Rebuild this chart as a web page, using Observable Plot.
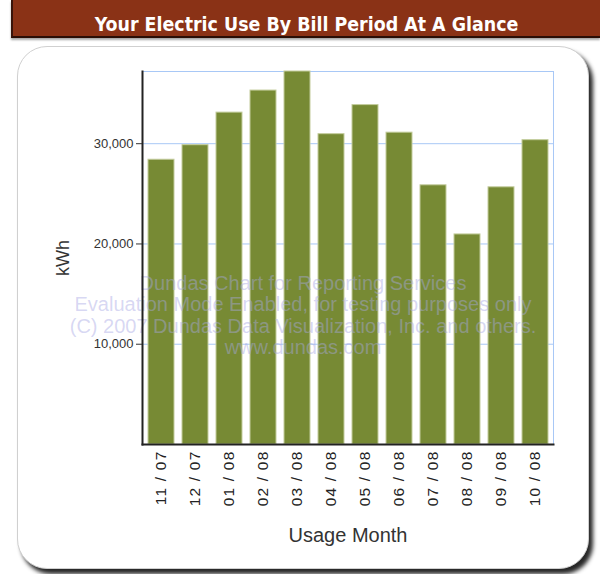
<!DOCTYPE html>
<html>
<head>
<meta charset="utf-8">
<script src="https://cdn.jsdelivr.net/npm/d3@7"></script>
<script src="https://cdn.jsdelivr.net/npm/@observablehq/plot@0.6"></script>
<style>
  html, body { margin: 0; padding: 0; background: #ffffff; }
  #page { position: relative; width: 600px; height: 574px; overflow: hidden; background: #ffffff; }
  #header {
    position: absolute; left: 11px; top: 0; width: 589px; height: 38px;
    background: #8a3216; border-left: 2px solid #3a140a; border-bottom: 2px solid #2a0e06;
    box-shadow: 0 2px 2px rgba(0,0,0,0.35);
    color: #ffffff; font-family: "DejaVu Sans Condensed", "DejaVu Sans", sans-serif; font-weight: bold;
    font-size: 19.4px; text-align: center; line-height: 20px; box-sizing: border-box; padding-top: 15px;
    padding-right: 0px; white-space: nowrap;
  }
  #panel {
    position: absolute; left: 17px; top: 46px; width: 570px; height: 521px;
    background: #ffffff; border: 1px solid #d0d0d0; border-radius: 30px;
    box-shadow: 4px 5px 4px rgba(0,0,0,0.85);
  }
  #chart { position: absolute; left: 0; top: 0; }
  #chart g[aria-label="x-axis tick label"] text { letter-spacing: 1.2px; }
</style>
</head>
<body>
<div id="page">
  <div id="header">Your Electric Use By Bill Period At A Glance</div>
  <div id="panel"></div>
  <div id="chart"></div>
</div>
<script>
const months = ["11 / 07", "12 / 07", "01 / 08", "02 / 08", "03 / 08", "04 / 08",
                "05 / 08", "06 / 08", "07 / 08", "08 / 08", "09 / 08", "10 / 08"];
const usage = [28400, 29850, 33100, 35300, 37200, 30950, 33850, 31100, 25850, 20950, 25650, 30350];
const yTicks = [10000, 20000, 30000];
const yMax = 37200;
const xTitle = "Usage Month";
const yTitle = "kWh";
const watermark = ["Dundas Chart for Reporting Services",
                   "Evaluation Mode Enabled, for testing purposes only",
                   "(C) 2007 Dundas Data Visualization, Inc. and others.",
                   "www.dundas.com"];

const data = months.map((m, i) => ({month: m, kwh: usage[i]}));

const chart = Plot.plot({
  width: 600,
  height: 574,
  marginLeft: 142,
  marginRight: 47,
  marginTop: 71,
  marginBottom: 130,
  style: {background: "transparent", fontFamily: "'Liberation Sans', Arial, sans-serif", color: "#333"},
  x: {domain: months, paddingInner: 0.24, paddingOuter: 0.03, label: null},
  y: {domain: [0, yMax], label: null},
  marks: [
    Plot.frame({stroke: "#a8c8f6", strokeWidth: 1}),
    Plot.gridY(yTicks, {stroke: "#a8c8f6", strokeOpacity: 1, strokeWidth: 1}),
    Plot.barY(data, {x: "month", y: "kwh", fill: "#778a34", stroke: "#c3cc9c", strokeWidth: 1}),
    Plot.text([watermark.join("\n")], {
      frameAnchor: "middle", dx: -45, dy: 57, lineHeight: 1.07,
      fontSize: 20, fill: "#a8a8e4", fillOpacity: 0.45, text: d => d
    }),
    Plot.frame({anchor: "left", stroke: "#222", strokeWidth: 2}),
    Plot.frame({anchor: "bottom", stroke: "#222", strokeWidth: 2}),
    Plot.axisY(yTicks, {tickSize: 6, tickPadding: 3, tickFormat: d3.format(","), fontSize: 13, color: "#333", label: null}),
    Plot.axisX({tickRotate: -90, tickSize: 0, tickPadding: 6, fontSize: 15.5, color: "#222", label: null}),
    Plot.text([yTitle], {frameAnchor: "left", textAnchor: "middle", dx: -79, rotate: -90, fontSize: 18, fill: "#333", text: d => d}),
    Plot.text([xTitle], {frameAnchor: "bottom", lineAnchor: "bottom", dy: 97, fontSize: 20, fill: "#333", text: d => d})
  ]
});
document.getElementById("chart").appendChild(chart);
</script>
</body>
</html>
